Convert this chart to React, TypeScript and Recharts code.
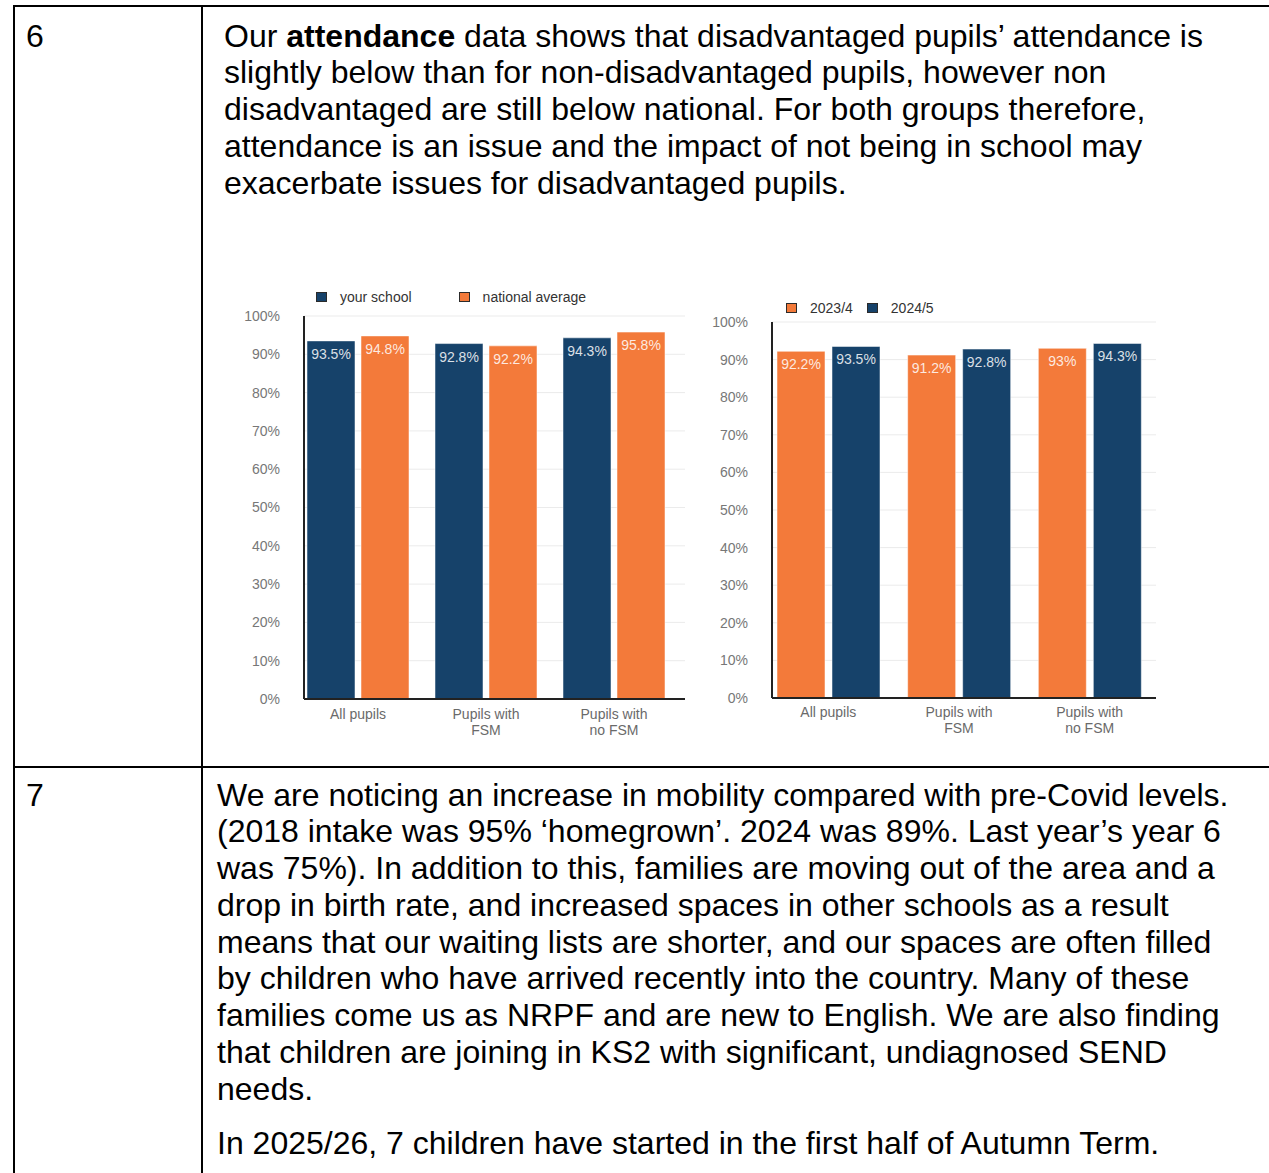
import { BarChart, Bar, XAxis, YAxis, CartesianGrid, Legend, LabelList } from "recharts";

// ================= DATA =================
const groups = ["All pupils", "Pupils with\nFSM", "Pupils with\nno FSM"];

const yourSchool = [93.5, 92.8, 94.3];
const nationalAverage = [94.8, 92.2, 95.8];

const year2023 = [92.2, 91.2, 93];
const year2024 = [93.5, 92.8, 94.3];

const percentTicks = [0, 10, 20, 30, 40, 50, 60, 70, 80, 90, 100];

// ================= COLORS / FONTS =================
const NAVY = "#16426a";
const ORANGE = "#f37a3a";
const FONT = '"Liberation Sans", Arial, Helvetica, sans-serif';

const schoolData = groups.map((name, i) => ({
  name,
  school: yourSchool[i],
  national: nationalAverage[i],
}));

const yearData = groups.map((name, i) => ({
  name,
  y2023: year2023[i],
  y2024: year2024[i],
}));

// ================= TICKS =================
// eslint-disable-next-line
function GroupTick({ x, y, payload, firstDy }: any) {
  const lines = String(payload.value).split("\n");
  return (
    <text x={x} y={y} textAnchor="middle" fontSize={14} fill="#6a6a6a" fontFamily={FONT}>
      {lines.map((line, i) => (
        <tspan key={i} x={x} dy={i === 0 ? firstDy : 16}>
          {line}
        </tspan>
      ))}
    </text>
  );
}

// ================= LEGEND =================
type LegendItem = { label: string; color: string };

function legendContent(items: LegendItem[], spacing: number) {
  return () => (
    <div style={{ display: "flex", alignItems: "center", height: 16, fontFamily: FONT }}>
      {items.map((item, i) => (
        <div
          key={item.label}
          style={{
            display: "flex",
            alignItems: "center",
            marginRight: i < items.length - 1 ? spacing : 0,
          }}
        >
          <span
            style={{
              width: 11,
              height: 10,
              boxSizing: "border-box",
              background: item.color,
              border: "1px solid #2b2b2b",
              marginRight: 13,
            }}
          />
          <span style={{ fontSize: 14, color: "#333", whiteSpace: "nowrap" }}>{item.label}</span>
        </div>
      ))}
    </div>
  );
}

const pct = (v: unknown) => `${v}%`;

// ================= CHARTS =================
function SchoolVsNational() {
  return (
    <BarChart
      width={500}
      height={470}
      data={schoolData}
      margin={{ top: 36, right: 15, bottom: 11, left: 44 }}
      barSize={48}
      barGap={6}
      style={{ fontFamily: FONT }}
    >
      <CartesianGrid vertical={false} stroke="#ebebeb" />
      <Legend
        layout="horizontal"
        align="center"
        verticalAlign="middle"
        wrapperStyle={{ top: 9, left: 116, width: 360, height: 16 }}
        content={legendContent(
          [
            { label: "your school", color: NAVY },
            { label: "national average", color: ORANGE },
          ],
          47
        )}
      />
      <XAxis
        dataKey="name"
        height={40}
        padding={{ left: -10, right: 7 }}
        axisLine={{ stroke: "#222", strokeWidth: 2 }}
        tickLine={false}
        tickSize={0}
        tickMargin={0}
        interval={0}
        tick={(props) => <GroupTick {...props} firstDy={20} />}
      />
      <YAxis
        width={60}
        domain={[0, 100]}
        ticks={percentTicks}
        tickFormatter={pct}
        axisLine={{ stroke: "#222", strokeWidth: 2 }}
        tickLine={false}
        tickSize={0}
        tickMargin={24}
        tick={{ fontSize: 14, fill: "#777" }}
      />
      <Bar dataKey="school" fill={NAVY} stroke="#ffffff" strokeOpacity={0.5} isAnimationActive={false}>
        <LabelList dataKey="school" position="insideTop" offset={8} fill="#fff" fillOpacity={0.85} fontSize={14} formatter={pct} />
      </Bar>
      <Bar dataKey="national" fill={ORANGE} stroke="#ffffff" strokeOpacity={0.5} isAnimationActive={false}>
        <LabelList dataKey="national" position="insideTop" offset={8} fill="#fff" fillOpacity={0.85} fontSize={14} formatter={pct} />
      </Bar>
    </BarChart>
  );
}

function YearOnYear() {
  return (
    <BarChart
      width={470}
      height={470}
      data={yearData}
      margin={{ top: 42, right: 14, bottom: 12, left: 12 }}
      barSize={48}
      barGap={7}
      style={{ fontFamily: FONT }}
    >
      <CartesianGrid vertical={false} stroke="#ebebeb" />
      <Legend
        layout="horizontal"
        align="center"
        verticalAlign="middle"
        wrapperStyle={{ top: 20, left: 86, width: 300, height: 16 }}
        content={legendContent(
          [
            { label: "2023/4", color: ORANGE },
            { label: "2024/5", color: NAVY },
          ],
          14
        )}
      />
      <XAxis
        dataKey="name"
        height={40}
        padding={{ left: -9, right: 1 }}
        axisLine={{ stroke: "#222", strokeWidth: 2 }}
        tickLine={false}
        tickSize={0}
        tickMargin={0}
        interval={0}
        tick={(props) => <GroupTick {...props} firstDy={19} />}
      />
      <YAxis
        width={60}
        domain={[0, 100]}
        ticks={percentTicks}
        tickFormatter={pct}
        axisLine={{ stroke: "#222", strokeWidth: 2 }}
        tickLine={false}
        tickSize={0}
        tickMargin={24}
        tick={{ fontSize: 14, fill: "#777" }}
      />
      <Bar dataKey="y2023" fill={ORANGE} stroke="#ffffff" strokeOpacity={0.5} isAnimationActive={false}>
        <LabelList dataKey="y2023" position="insideTop" offset={8} fill="#fff" fillOpacity={0.85} fontSize={14} formatter={pct} />
      </Bar>
      <Bar dataKey="y2024" fill={NAVY} stroke="#ffffff" strokeOpacity={0.5} isAnimationActive={false}>
        <LabelList dataKey="y2024" position="insideTop" offset={8} fill="#fff" fillOpacity={0.85} fontSize={14} formatter={pct} />
      </Bar>
    </BarChart>
  );
}

// ================= PAGE TEXT =================
// row 6 opens with a bold word, so its first line is built in JSX
const rowSixRest = [
  "slightly below than for non-disadvantaged pupils, however non",
  "disadvantaged are still below national. For both groups therefore,",
  "attendance is an issue and the impact of not being in school may",
  "exacerbate issues for disadvantaged pupils.",
];

const rowSevenLines = [
  "We are noticing an increase in mobility compared with pre-Covid levels.",
  "(2018 intake was 95% \u2018homegrown\u2019. 2024 was 89%. Last year\u2019s year 6",
  "was 75%). In addition to this, families are moving out of the area and a",
  "drop in birth rate, and increased spaces in other schools as a result",
  "means that our waiting lists are shorter, and our spaces are often filled",
  "by children who have arrived recently into the country. Many of these",
  "families come us as NRPF and are new to English. We are also finding",
  "that children are joining in KS2 with significant, undiagnosed SEND",
  "needs.",
];

const LINE = 36.8;

const line: React.CSSProperties = {
  height: LINE,
  lineHeight: `${LINE}px`,
  whiteSpace: "pre",
};

const rule = (s: React.CSSProperties): React.CSSProperties => ({
  position: "absolute",
  background: "#000",
  ...s,
});

export default function App() {
  return (
    <div
      style={{
        position: "absolute",
        left: 0,
        top: 0,
        width: 1269,
        height: 1173,
        overflow: "hidden",
        background: "#fff",
        color: "#000",
        fontFamily: FONT,
        fontSize: 32,
      }}
    >
      {/* table rules */}
      <div style={rule({ left: 13, top: 5, width: 1256, height: 2 })} />
      <div style={rule({ left: 13, top: 5, width: 2, height: 1168 })} />
      <div style={rule({ left: 201, top: 5, width: 2, height: 1168 })} />
      <div style={rule({ left: 13, top: 766, width: 1256, height: 2 })} />

      {/* row 6 */}
      <div style={{ position: "absolute", left: 26, top: 17.5, ...line }}>6</div>
      <div style={{ position: "absolute", left: 224, top: 17.5 }}>
        <div style={line}>
          Our <b>attendance</b> data shows that disadvantaged pupils{"\u2019"} attendance is
        </div>
        {rowSixRest.map((t) => (
          <div key={t} style={line}>
            {t}
          </div>
        ))}
      </div>

      <div style={{ position: "absolute", left: 200, top: 280 }}>
        <SchoolVsNational />
      </div>
      <div style={{ position: "absolute", left: 700, top: 280 }}>
        <YearOnYear />
      </div>

      {/* row 7 */}
      <div style={{ position: "absolute", left: 26, top: 776.5, ...line }}>7</div>
      <div style={{ position: "absolute", left: 217, top: 776.5 }}>
        {rowSevenLines.map((t) => (
          <div key={t} style={line}>
            {t}
          </div>
        ))}
        <div style={{ ...line, marginTop: 17.8 }}>
          In 2025/26, 7 children have started in the first half of Autumn Term.
        </div>
      </div>
    </div>
  );
}
